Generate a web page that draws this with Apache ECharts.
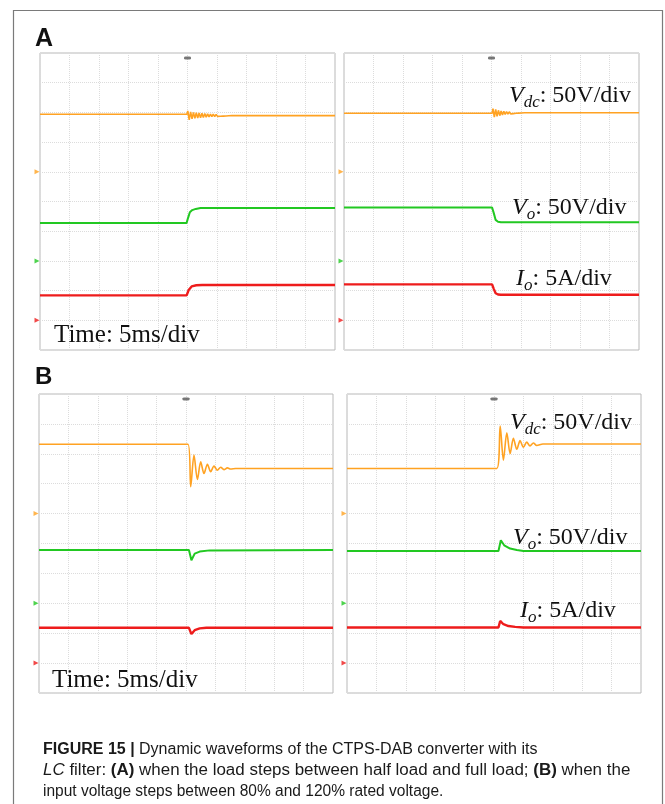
<!DOCTYPE html>
<html>
<head>
<meta charset="utf-8">
<script src="https://cdn.jsdelivr.net/npm/echarts@6/dist/echarts.min.js"></script>
<style>
  html, body { margin: 0; padding: 0; background: #fff; }
  #main { width: 665px; height: 804px; }
</style>
</head>
<body>
<div id="main"></div>
<script>
// Oscilloscope captures: time in ms (5 ms/div, 10 div), amplitude in screen divisions (10 div).
const timeRange = [0, 50];
const divRange = [0, 10];
const triggerTime = 25;
// channel ground markers (div): Vdc, Vo, Io
const groundLevels = [6, 3, 1];

// (A) load step: half load -> full load
const vdcA1 = [[0,7.94],[24.9,7.94],[25.05,8.05],[25.29,7.75],[25.53,8.02],[25.77,7.78],[26.01,8.0],[26.25,7.8],[26.49,7.99],[26.73,7.81],[26.97,7.98],[27.21,7.82],[27.45,7.97],[27.69,7.83],[27.93,7.96],[28.17,7.84],[28.41,7.95],[28.65,7.85],[28.89,7.945],[29.13,7.855],[29.37,7.94],[29.61,7.86],[29.85,7.935],[30.09,7.865],[30.33,7.93],[30.57,7.87],[30.81,7.925],[31.05,7.875],[31.29,7.92],[31.53,7.88],[31.77,7.91],[32.01,7.885],[32.25,7.9],[32.49,7.89],[50,7.89]];
const voA1 = [[0,4.28],[24.85,4.28],[25.1,4.45],[25.4,4.64],[25.8,4.71],[26.4,4.75],[27.2,4.78],[50,4.78]];
const ioA1 = [[0,1.84],[24.85,1.84],[25.2,2.02],[25.7,2.14],[26.5,2.18],[27.5,2.19],[50,2.19]];

// (A) load step: full load -> half load
const vdcA2 = [[0,7.97],[25.1,7.97],[25.25,8.13],[25.48,7.84],[25.71,8.1],[25.94,7.87],[26.17,8.07],[26.4,7.89],[26.63,8.05],[26.86,7.91],[27.09,8.04],[27.32,7.93],[27.55,8.03],[27.78,7.94],[28.01,8.02],[28.24,7.95],[28.47,8.01],[28.7,7.96],[28.93,8.005],[29.16,7.97],[29.39,8.0],[29.62,7.975],[29.85,7.995],[30.08,7.98],[30.6,7.99],[50,7.99]];
const voA2 = [[0,4.80],[25.1,4.80],[25.4,4.6],[25.7,4.38],[26.1,4.32],[26.6,4.30],[50,4.30]];
const ioA2 = [[0,2.21],[25.1,2.21],[25.4,2.05],[25.7,1.91],[26.1,1.87],[26.6,1.86],[50,1.86]];

// (B) input voltage step: 120% -> 80%
const vdcB1 = [[0,8.32],[25.34,8.32],[25.8,6.90],[26.36,7.96],[26.94,7.14],[27.5,7.73],[28.06,7.34],[28.64,7.65],[29.2,7.40],[29.76,7.59],[30.34,7.45],[30.9,7.55],[31.46,7.47],[32.04,7.53],[32.6,7.49],[33.45,7.51],[50,7.51]];
const voB1 = [[0,4.78],[25.5,4.78],[25.92,4.44],[26.48,4.66],[27.33,4.73],[29.03,4.77],[50,4.78]];
const ioB1 = [[0,2.18],[25.5,2.18],[25.92,1.97],[26.48,2.10],[27.33,2.16],[28.47,2.18],[50,2.18]];

// (B) input voltage step: 80% -> 120%
const vdcB2 = [[0,7.51],[25.48,7.51],[26.05,8.93],[26.6,7.79],[27.18,8.70],[27.74,8.01],[28.3,8.52],[28.88,8.15],[29.44,8.44],[30.0,8.22],[30.57,8.39],[31.13,8.26],[31.7,8.36],[32.26,8.28],[33.33,8.33],[50,8.33]];
const voB2 = [[0,4.75],[25.76,4.75],[26.16,5.11],[26.73,4.94],[27.74,4.83],[28.88,4.78],[30.0,4.75],[50,4.75]];
const ioB2 = [[0,2.19],[25.76,2.19],[26.05,2.41],[26.6,2.30],[27.45,2.24],[28.6,2.21],[30.0,2.19],[50,2.19]];

const channelColors = ['#ffa222', '#22c822', '#ee1c1c'];
const channelWidths = [1.6, 2, 2.4];

const panels = [
  { box: { left: 40, top: 53, width: 295, height: 297 }, traces: [vdcA1, voA1, ioA1], smooth: 0 },
  { box: { left: 344, top: 53, width: 295, height: 297 }, traces: [vdcA2, voA2, ioA2], smooth: 0 },
  { box: { left: 39, top: 394, width: 294, height: 299 }, traces: [vdcB1, voB1, ioB1], smooth: 0.3 },
  { box: { left: 347, top: 394, width: 294, height: 299 }, traces: [vdcB2, voB2, ioB2], smooth: 0.3 }
];

const gridLine = { show: true, lineStyle: { type: 'dotted', color: '#dcdcdc', width: 1 } };
const grids = [], xAxes = [], yAxes = [], series = [];

panels.forEach((p, i) => {
  grids.push(Object.assign({ show: true, borderColor: '#b8b8b8', borderWidth: 1, backgroundColor: '#fff' }, p.box));
  xAxes.push({ type: 'value', gridIndex: i, min: timeRange[0], max: timeRange[1], interval: 5,
    axisLine: { show: false }, axisTick: { show: false }, axisLabel: { show: false }, splitLine: gridLine });
  yAxes.push({ type: 'value', gridIndex: i, min: divRange[0], max: divRange[1], interval: 1,
    axisLine: { show: false }, axisTick: { show: false }, axisLabel: { show: false }, splitLine: gridLine });
  p.traces.forEach((d, c) => {
    series.push({ type: 'line', xAxisIndex: i, yAxisIndex: i, data: d, showSymbol: false, silent: true,
      smooth: c === 0 ? p.smooth : 0,
      lineStyle: { color: channelColors[c], width: channelWidths[c] }, z: 3 });
  });
  // ground-level markers on the left edge
  series.push({ type: 'scatter', xAxisIndex: i, yAxisIndex: i, clip: false, silent: true, z: 4,
    data: groundLevels.map((g, c) => ({ value: [timeRange[0], g], itemStyle: { color: channelColors[c] } })),
    symbol: 'triangle', symbolRotate: -90, symbolSize: 5, symbolOffset: [-3, 0] });
  // trigger position marker on the top edge
  series.push({ type: 'scatter', xAxisIndex: i, yAxisIndex: i, clip: false, silent: true, z: 4,
    data: [[triggerTime, divRange[1]]], symbol: 'roundRect', symbolSize: [7, 3], symbolOffset: [0, 5],
    itemStyle: { color: '#555' } });
});

const serif = '"Liberation Serif", "Times New Roman", serif';
const sans = '"Liberation Sans", Arial, sans-serif';

function scaleLabel(x, y, main, sub, rest) {
  return {
    type: 'text', x: x, y: y, z: 10, silent: true,
    style: {
      text: '{m|' + main + '}{s|' + sub + '}{r|' + rest + '}',
      verticalAlign: 'top',
      rich: {
        m: { fontFamily: serif, fontSize: 24, fontStyle: 'italic', lineHeight: 30, fill: '#111' },
        s: { fontFamily: serif, fontSize: 17, fontStyle: 'italic', lineHeight: 17, verticalAlign: 'bottom', fill: '#111' },
        r: { fontFamily: serif, fontSize: 24, lineHeight: 30, fill: '#111' }
      }
    }
  };
}

function timeLabel(x, y) {
  return { type: 'text', x: x, y: y, z: 10, silent: true,
    style: { text: 'Time: 5ms/div', font: '25px ' + serif, fill: '#111', verticalAlign: 'top' } };
}

const captionRich = {
  b: { fontFamily: sans, fontSize: 16, fontWeight: 'bold', fill: '#1a1a1a' },
  i: { fontFamily: sans, fontSize: 16, fontStyle: 'italic', fill: '#1a1a1a' },
  n: { fontFamily: sans, fontSize: 16, fill: '#1a1a1a' }
};
function captionLine(y, sx, text) {
  return { type: 'text', x: 43, y: y, scaleX: sx, z: 10, silent: true,
    style: { text: text, verticalAlign: 'top', rich: captionRich } };
}

const graphic = [
  { type: 'rect', shape: { x: 13.5, y: 10.5, width: 649, height: 820 }, style: { fill: 'none', stroke: '#7a7a7a', lineWidth: 1.2 }, silent: true, z: 1 },
  { type: 'text', x: 35, y: 27, silent: true, style: { text: 'A', font: 'bold 25px ' + sans, fill: '#111', verticalAlign: 'top' } },
  { type: 'text', x: 35, y: 365, silent: true, style: { text: 'B', font: 'bold 24px ' + sans, fill: '#111', verticalAlign: 'top' } },
  timeLabel(54, 323),
  timeLabel(52, 668),
  scaleLabel(509, 81, 'V', 'dc', ': 50V/div'),
  scaleLabel(512, 193, 'V', 'o', ': 50V/div'),
  scaleLabel(516, 264, 'I', 'o', ': 5A/div'),
  scaleLabel(510, 408, 'V', 'dc', ': 50V/div'),
  scaleLabel(513, 523, 'V', 'o', ': 50V/div'),
  scaleLabel(520, 596, 'I', 'o', ': 5A/div'),
  captionLine(742, 1, '{b|FIGURE 15 |}{n| Dynamic waveforms of the CTPS-DAB converter with its}'),
  captionLine(763, 1.06, '{i|LC}{n| filter: }{b|(A)}{n| when the load steps between half load and full load; }{b|(B)}{n| when the}'),
  captionLine(784, 0.97, '{n|input voltage steps between 80% and 120% rated voltage.}')
];

const chart = echarts.init(document.getElementById('main'), null, { renderer: 'canvas' });
chart.setOption({
  animation: false,
  backgroundColor: '#fff',
  grid: grids,
  xAxis: xAxes,
  yAxis: yAxes,
  series: series,
  graphic: graphic
});
</script>
</body>
</html>
